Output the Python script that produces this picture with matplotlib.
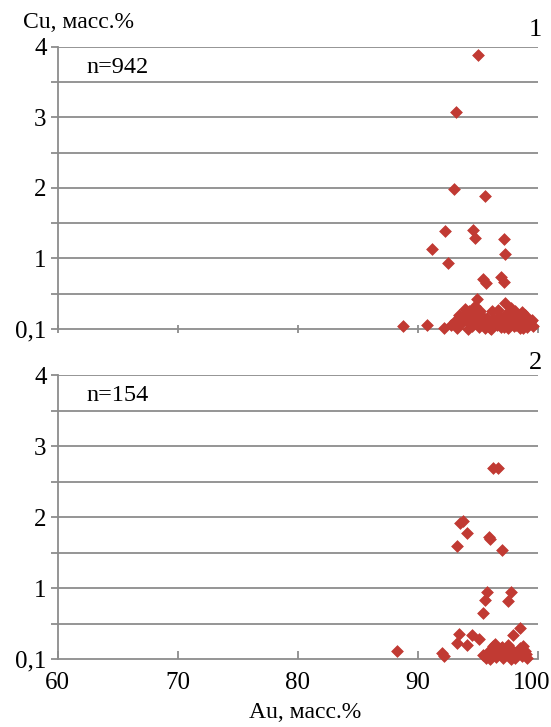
import matplotlib.pyplot as plt
import matplotlib.transforms as mtransforms

plt.rcParams['font.family'] = ['Liberation Serif', 'DejaVu Serif']

# panel 1 (n=942)
au_1 = [95.0, 93.2, 93.0, 95.6, 92.25, 94.6, 94.8, 97.2, 91.2, 97.3, 92.5,
        95.4, 95.7, 96.9, 97.2, 94.9, 94.8, 97.3, 88.75, 90.8, 92.2,
        92.8, 93.1, 93.4, 93.6, 93.9, 94.1, 94.3, 94.5, 94.7, 93.3, 93.7, 94.0,
        94.4, 94.9, 95.1, 95.3, 95.5, 95.8, 96.0, 96.2, 96.4, 96.6, 96.8, 97.0,
        97.2, 97.4, 97.6, 97.8, 98.0, 98.2, 98.4, 98.6, 98.8, 99.0, 99.2, 99.4,
        99.6, 95.2, 95.9, 96.3, 96.7, 97.5, 97.9, 98.3, 98.7, 99.1, 99.5, 96.1,
        96.9, 97.7, 98.5, 93.5, 94.2, 94.6, 93.8, 95.0, 96.5, 97.3, 98.1, 98.9,
        99.3, 95.6, 97.1, 98.0]
cu_1 = [3.89, 3.08, 1.99, 1.89, 1.39, 1.40, 1.29, 1.28, 1.13, 1.06, 0.94,
        0.71, 0.65, 0.74, 0.67, 0.43, 0.33, 0.37, 0.04, 0.06, 0.01,
        0.05, 0.12, 0.20, 0.08, 0.28, 0.15, 0.25, 0.04, 0.18, 0.02, 0.10, 0.22,
        0.06, 0.12, 0.03, 0.20, 0.09, 0.15, 0.02, 0.25, 0.10, 0.05, 0.18, 0.12,
        0.03, 0.22, 0.08, 0.30, 0.14, 0.05, 0.20, 0.10, 0.02, 0.16, 0.07, 0.11,
        0.04, 0.26, 0.06, 0.14, 0.27, 0.01, 0.19, 0.09, 0.24, 0.03, 0.13, 0.00,
        0.03, 0.06, 0.01, 0.14, 0.00, 0.09, 0.18, 0.22, 0.08, 0.16, 0.25, 0.20,
        0.08, 0.01, 0.12, 0.04]

# panel 2 (n=154)
au_2 = [96.25, 96.7, 93.75, 93.5, 94.1, 93.25, 95.9, 96.0, 97.0, 95.75, 95.6,
        95.4, 97.75, 97.5, 98.5, 97.9, 93.4, 94.5, 95.1, 93.3, 94.1, 92.0,
        88.25, 92.2,
        95.4, 95.7, 95.9, 96.1, 96.3, 96.5, 96.7, 96.9, 97.1, 97.3, 97.5, 97.7,
        97.9, 98.1, 98.3, 98.5, 98.7, 98.9, 99.1, 96.0, 96.6, 97.2, 97.8, 98.4,
        99.0, 96.4, 97.0, 98.8]
cu_2 = [2.69, 2.69, 1.94, 1.91, 1.77, 1.59, 1.72, 1.69, 1.54, 0.94, 0.83,
        0.65, 0.94, 0.82, 0.44, 0.34, 0.35, 0.34, 0.28, 0.23, 0.20, 0.08,
        0.11, 0.04,
        0.05, 0.01, 0.12, 0.06, 0.18, 0.03, 0.10, 0.15, 0.02, 0.08, 0.20, 0.05,
        0.12, 0.01, 0.09, 0.16, 0.04, 0.11, 0.02, 0.00, 0.14, 0.06, 0.00, 0.13,
        0.07, 0.21, 0.17, 0.19]

panels = [(au_1, cu_1, 'n=942', '1'), (au_2, cu_2, 'n=154', '2')]
rects = [[0.105, 0.5475, 0.871, 0.388], [0.105, 0.0935, 0.871, 0.3905]]

ylabels = ['0,1', '', '1', '', '2', '', '3', '', '4']
red = '#C13A33'
grey = '#8C8C8C'

fig = plt.figure(figsize=(5.51, 7.27), dpi=100)
for i, (au, cu, ntxt, num) in enumerate(panels):
    ax = fig.add_axes(rects[i])
    ax.set_xlim(60, 100)
    ax.set_ylim(0, 4)
    for y in [0.5 * k for k in range(1, 9)]:
        ax.axhline(y, color=grey, lw=1.3, zorder=1)
    ax.scatter(au, cu, marker='D', s=36, color=red, edgecolors=red,
               linewidths=0.5, zorder=3, clip_on=False)
    for s in ['top', 'right']:
        ax.spines[s].set_visible(False)
    for s in ['left', 'bottom']:
        ax.spines[s].set_color(grey)
        ax.spines[s].set_linewidth(1.3)
    ax.set_yticks([0.5 * k for k in range(9)])
    ax.set_yticklabels(ylabels)
    ax.tick_params(axis='y', direction='out', length=5, color=grey,
                   width=1.3, labelsize=18, pad=3)
    ax.set_xticks([60, 70, 80, 90, 100])
    ax.tick_params(axis='x', direction='inout' if i == 0 else 'in', length=6,
                   color=grey, width=1.3, labelsize=18, pad=9)
    if i == 0:
        ax.set_xticklabels([])
    else:
        last = ax.get_xticklabels()[-1]
        last.set_transform(last.get_transform() + mtransforms.ScaledTranslation(
            -6 / 100, 0, fig.dpi_scale_trans))
    ax.text(62.4, 3.71, ntxt, fontsize=17.5, va='center', ha='left')
    ax.text(0.995, 1.0 + (0.02 if i == 0 else 0.005), num, fontsize=19,
            transform=ax.transAxes, ha='center', va='bottom')

fig.text(23 / 551, 1 - 22 / 727, 'Cu, масс.%', fontsize=17, ha='left',
         va='center')
fig.text(305 / 551, 1 - 712 / 727, 'Au, масс.%', fontsize=17, ha='center',
         va='center')

fig.savefig('out.png', dpi=100)
